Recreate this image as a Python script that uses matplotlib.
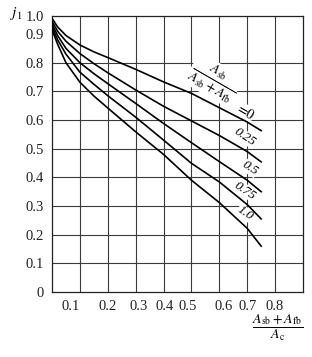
import numpy as np
import matplotlib
matplotlib.use("Agg")
import matplotlib.pyplot as plt

plt.rcParams['font.family'] = 'serif'
plt.rcParams['font.serif'] = ['Liberation Serif', 'DejaVu Serif']
plt.rcParams['mathtext.fontset'] = 'stix'

# values (x = (Asb+Afb)/Ac, y = j1)
x_pts = [0.0, 0.02, 0.05, 0.1, 0.15, 0.2, 0.3, 0.4, 0.5, 0.6, 0.7, 0.75]
j1_ratio_0 = [0.955, 0.925, 0.895, 0.862, 0.838, 0.818, 0.777, 0.733, 0.693, 0.643, 0.593, 0.563]
j1_ratio_025 = [0.945, 0.91, 0.875, 0.832, 0.797, 0.765, 0.705, 0.648, 0.597, 0.546, 0.49, 0.454]
j1_ratio_05 = [0.935, 0.895, 0.85, 0.80, 0.762, 0.727, 0.658, 0.588, 0.521, 0.455, 0.39, 0.35]
j1_ratio_075 = [0.925, 0.88, 0.83, 0.767, 0.725, 0.685, 0.61, 0.53, 0.449, 0.384, 0.305, 0.255]
j1_ratio_1 = [0.915, 0.865, 0.80, 0.732, 0.684, 0.642, 0.559, 0.48, 0.39, 0.312, 0.222, 0.16]
curves = [j1_ratio_0, j1_ratio_025, j1_ratio_05, j1_ratio_075, j1_ratio_1]
curve_labels = ["0.25", "0.5", "0.75", "1.0"]

x_tick_labels = ["0.1", "0.2", "0.3", "0.4", "0.5", "0.6", "0.7", "0.8"]
y_tick_labels = ["0", "0.1", "0.2", "0.3", "0.4", "0.5", "0.6", "0.7", "0.8", "0.9", "1.0"]

fig = plt.figure(figsize=(3.12, 3.57), dpi=100)
ax = fig.add_axes([52 / 312, 1 - 292 / 357, 251 / 312, 276 / 357])

y_top = 0.963
ax.set_xlim(0, 0.9)
ax.set_ylim(0, y_top)

# grid lines drawn by hand, labels sit a bit off the grid in the original
for g in np.arange(0.1, 0.85, 0.1):
    ax.axvline(g, color='#3a3a3a', linewidth=0.8, zorder=1)
    ax.axhline(g, color='#3a3a3a', linewidth=0.8, zorder=1)
ax.set_xticks([0.068, 0.2, 0.31, 0.405, 0.487, 0.616, 0.7, 0.8])
ax.set_xticklabels(x_tick_labels)
ax.set_yticks(list(np.arange(0, 0.95, 0.1)) + [y_top])
ax.set_yticklabels(y_tick_labels)
ax.tick_params(which='both', length=0, labelsize=10.5, colors='#222222')
ax.tick_params(axis='x', pad=6)
ax.tick_params(axis='y', pad=6)
for s in ax.spines.values():
    s.set_color('#222222')
    s.set_linewidth(0.9)

for ys in curves:
    ax.plot(x_pts, ys, color='black', linewidth=1.2, zorder=3)

# curve labels, white boxes break the grid but not the curves
lab_pos = [(0.692, 0.54), (0.71, 0.432), (0.692, 0.354), (0.692, 0.275)]
for (lx, ly), t in zip(lab_pos, curve_labels):
    ax.text(lx, ly, t, fontsize=9.5, style='italic', rotation=-34,
            ha='center', va='center', zorder=2,
            bbox=dict(facecolor='white', edgecolor='none', pad=0.2))

ax.text(0.58, 0.74, r"$\frac{A_{\rm sb}}{A_{\rm sb}+A_{\rm fb}}$", fontsize=14,
        rotation=-30, ha='center', va='center', zorder=2,
        bbox=dict(facecolor='white', edgecolor='none', pad=0.5))
ax.text(0.69, 0.63, r"$=\!0$", fontsize=10, rotation=-30, ha='center', va='center',
        zorder=2, bbox=dict(facecolor='white', edgecolor='none', pad=0.3))

fig.text(16 / 312, 1 - 14 / 357, r"$j_1$", fontsize=11, ha='center', va='center')
fig.text(278 / 312, 1 - 328 / 357, r"$\dfrac{A_{\rm sb}+A_{\rm fb}}{A_{\rm c}}$",
         fontsize=10, ha='center', va='center')

fig.savefig("out.png", dpi=100)
